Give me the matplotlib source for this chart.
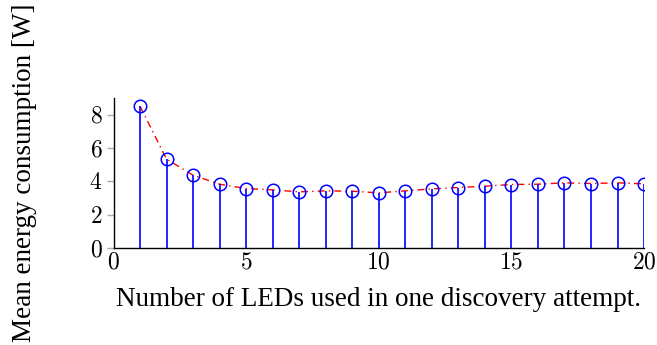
import numpy as np
import matplotlib.pyplot as plt

plt.rcParams['font.family'] = ['Liberation Serif', 'DejaVu Serif']
plt.rcParams['mathtext.fontset'] = 'cm'

# LEDs per discovery attempt and the mean energy drawn for each
num_leds = np.arange(1, 21)
mean_energy = [8.5, 5.33, 4.37, 3.83, 3.57, 3.49, 3.37, 3.43, 3.41, 3.31,
               3.43, 3.55, 3.63, 3.71, 3.81, 3.83, 3.91, 3.87, 3.91, 3.85]
x_ticks = [0, 5, 10, 15, 20]
y_ticks = [0, 2, 4, 6, 8]

fig = plt.figure(figsize=(6.57, 3.45), dpi=100)
ax = fig.add_axes([0.1728, 0.281, 0.8075, 0.435])

# trend line first, stems and open circles on top
ax.plot(num_leds, mean_energy, color='red', linestyle=(0, (5, 3, 1, 3)),
        linewidth=1.0, zorder=2)
ax.vlines(num_leds, 0, mean_energy, color='blue', linewidth=1.2, zorder=3)
ax.plot(num_leds, mean_energy, linestyle='none', marker='o', markersize=9,
        markerfacecolor='none', markeredgecolor='blue', markeredgewidth=1.1,
        zorder=4)

ax.set_xlim(0, 20)
ax.set_ylim(0, 9)
ax.set_xticks(x_ticks)
ax.set_xticklabels([f'${t}$' for t in x_ticks])
ax.set_yticks(y_ticks)
ax.set_yticklabels([f'${t}$' for t in y_ticks])
ax.tick_params(axis='x', length=0, labelsize=17, pad=3)
ax.tick_params(axis='y', length=5, width=1, color='#aaaaaa', labelsize=17, pad=3)

for side in ['top', 'right']:
    ax.spines[side].set_visible(False)
for side in ['left', 'bottom']:
    ax.spines[side].set_linewidth(1.0)

ax.set_xlabel('Number of LEDs used in one discovery attempt.', fontsize=19.5,
              labelpad=10)
fig.text(0.038, 0.5, 'Mean energy consumption [W]', rotation=90, fontsize=19.5,
         ha='center', va='center')

fig.savefig('out.png', dpi=100)
